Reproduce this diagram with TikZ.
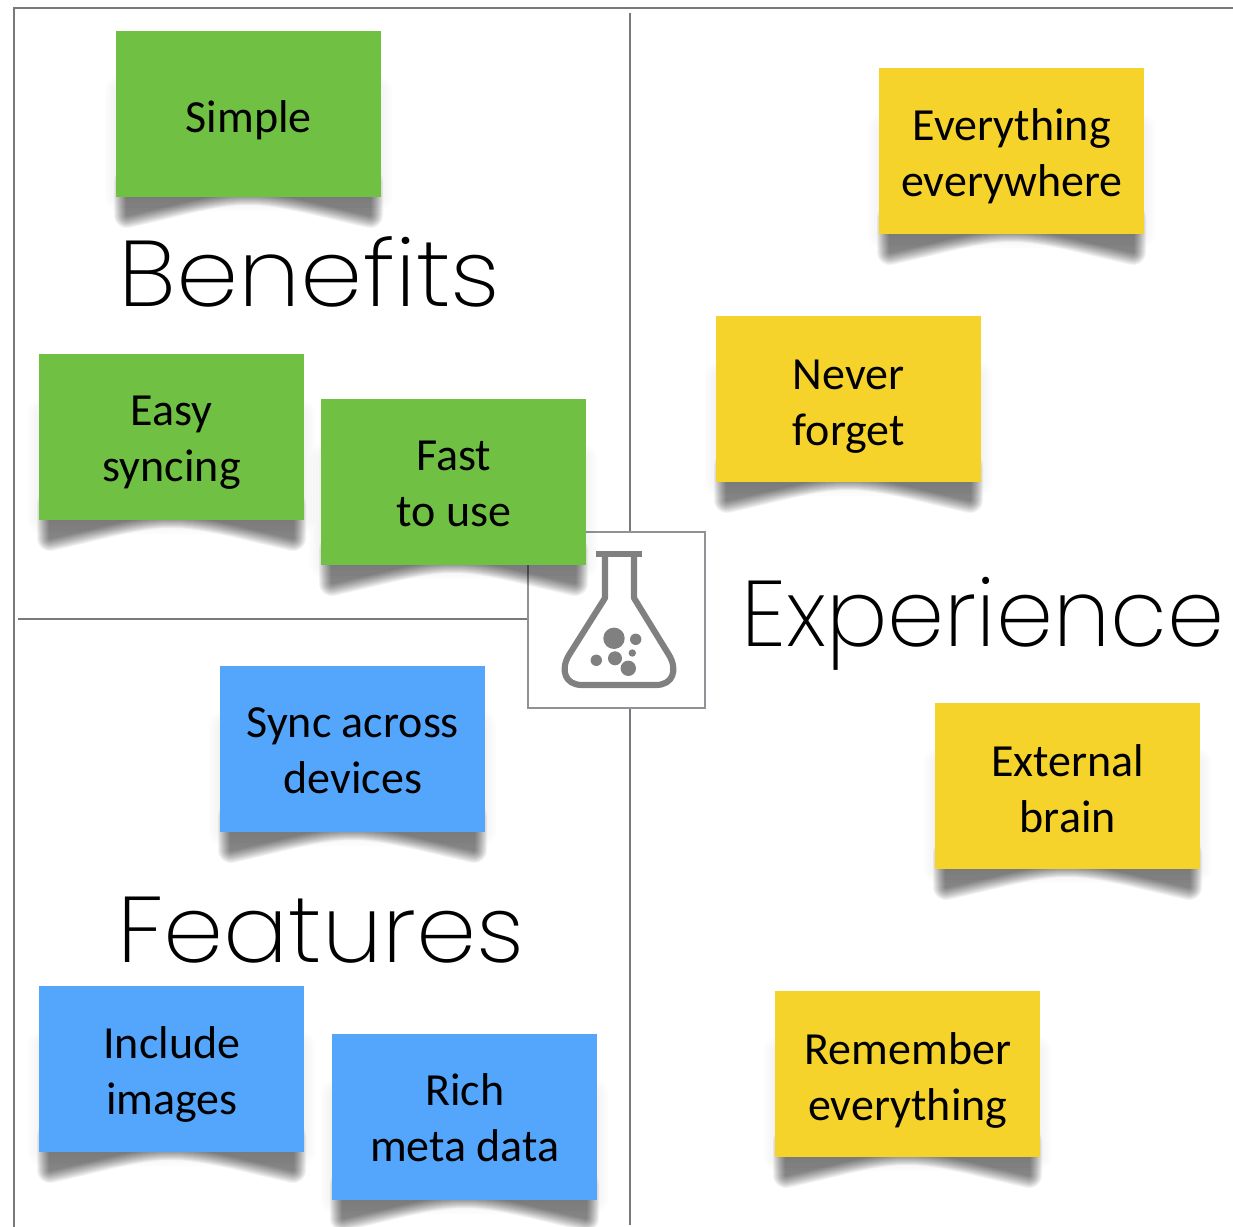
\documentclass[tikz,border=0pt]{standalone}
\usepackage{fontspec}
\setmainfont{Carlito}
\newfontfamily\headfont{Poppins ExtraLight}
\definecolor{stickgreen}{HTML}{70C043}
\definecolor{stickyellow}{HTML}{F6D32B}
\definecolor{stickblue}{HTML}{53A6FB}
\definecolor{rulegray}{HTML}{77797B}
\definecolor{boxgray}{HTML}{8F9296}
\definecolor{flaskgray}{HTML}{808080}
\tikzset{
  stickynote/.style={minimum width=198.75pt,minimum height=124.5pt,inner sep=0pt,anchor=north west},
  stickylabel/.style={inner sep=0pt,align=center,font=\fontsize{34.5}{42}\selectfont,text=black},
  heading/.style={anchor=base west,inner sep=0pt,transform shape,font=\headfont\fontsize{70}{80}\selectfont,text=black},
  gridline/.style={rulegray,line width=1.4pt},
  flaskline/.style={flaskgray,line width=4.6pt},
  flaskdot/.style={fill=flaskgray,draw=none}
}
% #1 name, #2 x, #3 y, #4 colour, #5 text, #6 text shift down in px
\newcommand{\stickynote}[6]{%
  \begin{scope}[shift={(#2,#3)}]
    \foreach \w in {30,24,18,12,6}{
      \begin{scope}[transparency group,opacity=.012]
      \fill[black,draw=black,line width=\w*.75pt,line join=round]
        (4,60) -- (4,165) -- (261,165) -- (261,60) -- cycle;
      \end{scope}
    }
    \foreach \w in {26,24,22,20,18,16,14,12,10,8,6,4,2}{
      \begin{scope}[transparency group,opacity=.046]
      \fill[black,draw=black,line width=\w*.75pt,line join=round]
        (11,150) -- (11,184) .. controls (65,172) and (100,161) .. (132,161)
        .. controls (165,161) and (200,172) .. (254,184) -- (254,150) -- cycle;
      \end{scope}
    }
  \end{scope}
  \node[stickynote,fill=#4] (#1) at (#2,#3) {};
  \node[stickylabel] (#1-text) at ([yshift=-#6*.75pt]#1.center) {#5};
}
\begin{document}
\begin{tikzpicture}[x=.75pt,y=-.75pt]
\useasboundingbox (0,0) rectangle (1233,1227);
\fill[white] (0,0) rectangle (1233,1227);
\coordinate (tl) at (14,8);
\coordinate (tr) at (1233,8);
\coordinate (bl) at (14,1227);
\coordinate (vt) at (630,13);
\coordinate (vb) at (630,1225);
\coordinate (hl) at (18,619);
\draw[gridline] (bl) -- (tl) -- (tr);
\draw[gridline] (vt) -- (vb);
\node[draw=boxgray,fill=white,line width=1.8pt,minimum width=132.5pt,minimum height=132pt,inner sep=0pt,anchor=north west] (hub) at (527,530.5) {};
\draw[gridline] (hl) -- (hub.west |- hl);
% flask
\draw[flaskgray,line width=5pt] (596,554) -- (642,554);
\draw[flaskline,line join=round] (605,555) -- (605,598) -- (569,655)
  .. controls (560,670) and (565,685) .. (582,685) -- (656,685)
  .. controls (673,685) and (678,670) .. (669,655) -- (634,598) -- (634,555);
\fill[flaskdot] (614,638.3) circle (10.7);
\fill[flaskdot] (635.7,639.3) circle (5.7);
\fill[flaskdot] (632.3,653) circle (3.7);
\fill[flaskdot] (615,658.3) circle (7);
\fill[flaskdot] (628.3,668.3) circle (7.7);
\fill[flaskdot] (596.3,660.3) circle (5.7);
% notes
\stickynote{simple}{116}{31}{stickgreen}{Simple}{6}
\stickynote{easy}{39}{354}{stickgreen}{Easy\\syncing}{5}
\stickynote{fast}{321}{399}{stickgreen}{Fast\\to use}{2}
\stickynote{everything}{879}{68}{stickyellow}{Everything\\everywhere}{5}
\stickynote{never}{716}{316}{stickyellow}{Never\\forget}{7}
\stickynote{external}{935}{703}{stickyellow}{External\\brain}{2}
\stickynote{remember}{775}{991}{stickyellow}{Remember\\everything}{6}
\stickynote{sync}{220}{666}{stickblue}{Sync across\\devices}{1}
\stickynote{include}{39}{986}{stickblue}{Include\\images}{5}
\stickynote{rich}{332}{1034}{stickblue}{Rich\\meta data}{0}
% headings
\node[heading,xscale=1.07] (benefits) at (118,306) {Benefits};
\node[heading,xscale=.98] (experience) at (741,646) {Experience};
\node[heading,xscale=1.033] (features) at (117,962) {Features};
\end{tikzpicture}
\end{document}
